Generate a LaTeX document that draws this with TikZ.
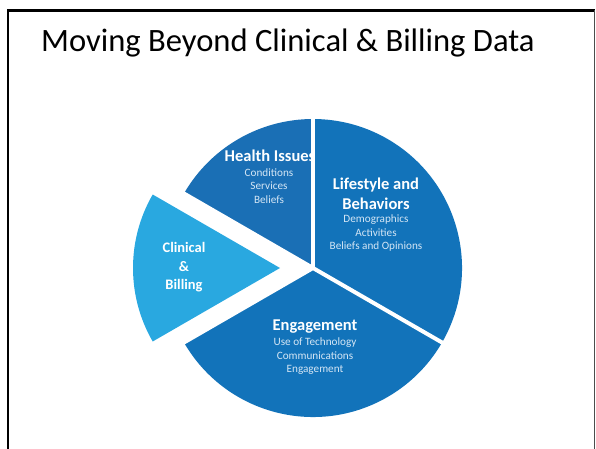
\documentclass[tikz,border=0pt]{standalone}
\usepackage{fontspec}
\setmainfont{Carlito}
\usetikzlibrary{calc}
\definecolor{pieblue}{HTML}{1273BA}
\definecolor{pieblueb}{HTML}{1A6FB5}
\definecolor{pielight}{HTML}{29A8E0}
\definecolor{subtxt}{HTML}{D4E6F5}
\tikzset{
  head/.style={text=white, font=\bfseries\fontsize{16.5}{20}\selectfont, align=center, inner sep=0pt},
  sub/.style={text=subtxt, font=\fontsize{11.2}{13.5}\selectfont, align=center, inner sep=0pt},
  gap/.style={white, line width=4pt},
}
\begin{document}
\begin{tikzpicture}[x=1pt,y=1pt]
\useasboundingbox (0,0) rectangle (596,-449);

% slide frame and title
\draw[line width=2.6pt] (8,-480) -- (8,-10.5) -- (594.5,-10.5);
\draw[line width=1.2pt, black!70] (594.5,-10.5) -- (594.5,-480);
\node (title) [anchor=base west, inner sep=0pt, font=\fontsize{32.6}{38}\selectfont] at (41,-52) {Moving Beyond Clinical \& Billing Data};

% pie
\coordinate (c) at (313,-268);
\coordinate (k) at (280,-268);
\fill[pieblueb] (c) -- ++(90:149pt) arc[start angle=90, end angle=150, radius=149pt] -- cycle;
\fill[pieblue] (c) -- ++(-30:149pt) arc[start angle=-30, end angle=90, radius=149pt] -- cycle;
\fill[pieblue] (c) -- ++(210:149pt) arc[start angle=210, end angle=330, radius=149pt] -- cycle;
\fill[pielight] (k) -- ++(150:147pt) arc[start angle=150, end angle=210, radius=147pt] -- cycle;

\node (health) [head] at (270,-156) {Health Issues};
\node (healthsub) [sub] at (269,-186) {Conditions\\Services\\Beliefs};
\node (life) [head] at (376,-194) {Lifestyle and\\Behaviors};
\node (lifesub) [sub] at (376,-233.5) {Demographics\\Activities\\Beliefs and Opinions};
\node (clin) [head, font=\bfseries\fontsize{14.5}{18.5}\selectfont] at (184,-267.5) {Clinical\\\&\\Billing};
\node (eng) [head] at (315,-327) {Engagement};
\node (engsub) [sub] at (315,-356.5) {Use of Technology\\Communications\\Engagement};

% white cuts between slices
\draw[gap] (c) -- ++(90:156pt);
\draw[gap] (c) -- ++(-30:156pt);
\draw[gap] (c) -- ++(150:156pt);
\draw[gap] (c) -- ++(210:156pt);
\end{tikzpicture}
\end{document}
